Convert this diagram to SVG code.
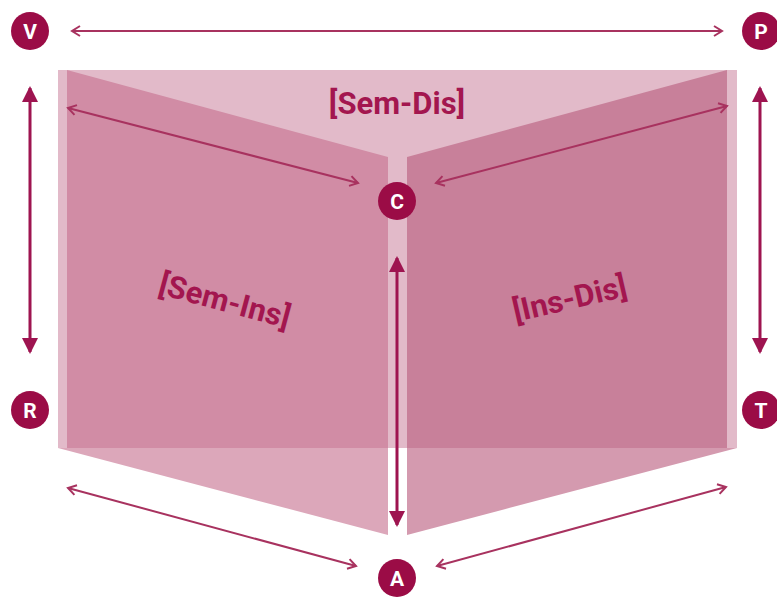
<svg xmlns="http://www.w3.org/2000/svg" width="777" height="601" viewBox="0 0 777 601">
  <style>
    .node circle { fill: #9b0c46; }
    .node text { fill: #ffffff; font-family: Roboto, "Liberation Sans", sans-serif; font-weight: 700; font-size: 21px; text-anchor: middle; dominant-baseline: central; }
    .label { fill: #a3164f; font-family: Roboto, "Liberation Sans", sans-serif; font-weight: 700; font-size: 31px; text-anchor: middle; }
    .thin { stroke: #a8325f; stroke-width: 2; fill: none; marker-start: url(#chev); marker-end: url(#chev); }
    .thick { stroke: #9e1450; stroke-width: 3; fill: none; marker-start: url(#tri); marker-end: url(#tri); }
  </style>
  <defs>
    <marker id="chev" viewBox="0 0 12 12" refX="10" refY="6" markerWidth="12" markerHeight="12" markerUnits="userSpaceOnUse" orient="auto-start-reverse">
      <path d="M2,1 L10,6 L2,11" fill="none" stroke="#a8325f" stroke-width="2"/>
    </marker>
    <marker id="tri" viewBox="0 0 16 16" refX="14" refY="8" markerWidth="16" markerHeight="16" markerUnits="userSpaceOnUse" orient="auto-start-reverse">
      <path d="M0,0 L16,8 L0,16 Z" fill="#9e1450"/>
    </marker>
  </defs>

  <!-- planes -->
  <g id="planes">
    <rect x="58" y="70" width="679" height="378" fill="#e2bac9"/>
    <polygon points="67,70 388,157 388,448 67,448" fill="#d18ca5"/>
    <polygon points="58,448 388,448 388,535" fill="#dca7ba"/>
    <polygon points="727,70 407,157 407,448 727,448" fill="#c8809a"/>
    <polygon points="737,448 407,448 407,535" fill="#d49aaf"/>
  </g>

  <!-- region labels -->
  <g id="labels">
    <text class="label" x="397" y="114">[Sem-Dis]</text>
    <text class="label" x="0" y="0" transform="translate(222,311) rotate(15)">[Sem-Ins]</text>
    <text class="label" x="0" y="0" transform="translate(572,309) rotate(-13)">[Ins-Dis]</text>
  </g>

  <!-- connectors -->
  <g id="connectors">
    <line class="thin" x1="72" y1="31" x2="722" y2="31"/>
    <line class="thin" x1="68" y1="108" x2="358" y2="183"/>
    <line class="thin" x1="727" y1="106" x2="436" y2="183"/>
    <line class="thin" x1="68" y1="488" x2="356" y2="566"/>
    <line class="thin" x1="726" y1="487" x2="437" y2="566"/>
    <line class="thick" x1="30" y1="88" x2="30" y2="352"/>
    <line class="thick" x1="760" y1="88" x2="760" y2="352"/>
    <line class="thick" x1="397" y1="258" x2="397" y2="525"/>
  </g>

  <!-- vertices -->
  <g id="V" class="node"><circle cx="30" cy="31" r="19"/><text x="30" y="32">V</text></g>
  <g id="P" class="node"><circle cx="761" cy="31" r="19"/><text x="761" y="32">P</text></g>
  <g id="R" class="node"><circle cx="30" cy="410" r="19"/><text x="30" y="411">R</text></g>
  <g id="T" class="node"><circle cx="761" cy="410" r="19"/><text x="761" y="411">T</text></g>
  <g id="C" class="node"><circle cx="397" cy="201" r="19"/><text x="397" y="202">C</text></g>
  <g id="A" class="node"><circle cx="397" cy="578" r="19"/><text x="397" y="579">A</text></g>
</svg>
